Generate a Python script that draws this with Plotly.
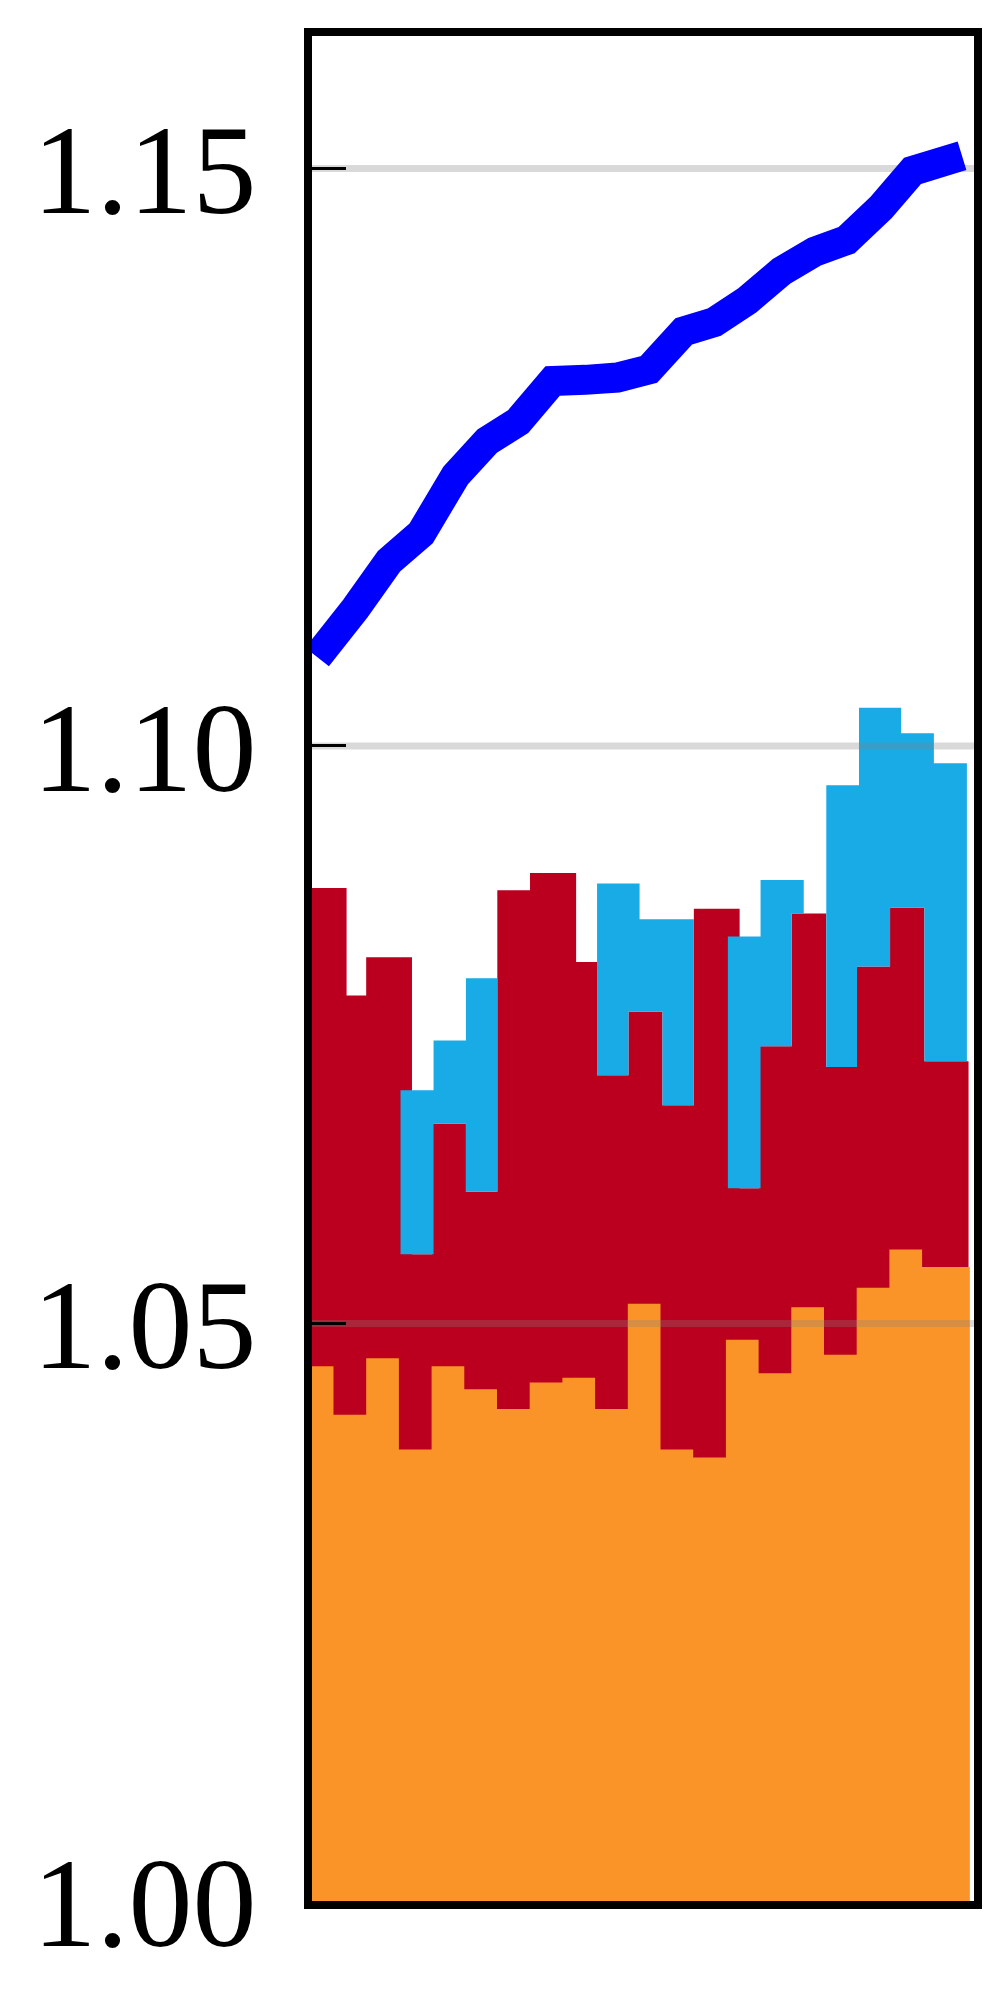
import plotly.graph_objects as go

# x is in "period" units; each list gives the step edges
orange_x = [-1, 0, 1, 2, 3, 4, 5, 6, 7, 8, 9, 10, 11, 12, 13, 14, 15, 16, 17, 18, 19.46]
orange_v = [1.0463, 1.0421, 1.0470, 1.0391, 1.0463, 1.0443, 1.0426, 1.0449, 1.0453, 1.0426,
            1.0517, 1.0391, 1.0384, 1.0486, 1.0457, 1.0514, 1.0473, 1.0531, 1.0564, 1.0549]

red_x = [-1, 0.40, 1.00, 2.40, 3.01, 4.05, 5.01, 6.01, 7.42, 8.06, 9.02,
         10.06, 11.02, 12.42, 13.01, 14.01, 15.07, 16.01, 17.02, 18.07, 19.42]
red_v = [1.0877, 1.0784, 1.0817, 1.0560, 1.0673, 1.0614, 1.0875, 1.0890, 1.0813, 1.0715,
         1.0770, 1.0689, 1.0859, 1.0617, 1.0740, 1.0855, 1.0722, 1.0809, 1.0860, 1.0727]

# blue band: lower / upper edge per step, None = no band
blue_x = [2.05, 3.06, 4.05, 5.01, 8.06, 9.02, 9.36, 10.06, 11.02, 12.06, 13.06,
          14.01, 14.38, 15.07, 16.01, 16.07, 17.02, 17.36, 18.07, 18.36, 19.37]
blue_lo = [1.0560, 1.0673, 1.0614, None, 1.0715, 1.0770, 1.0770, 1.0689, None, 1.0617,
           1.0740, 1.0855, None, 1.0722, 1.0809, 1.0809, 1.0860, 1.0860, 1.0727, 1.0727]
blue_hi = [1.0702, 1.0745, 1.0799, None, 1.0881, 1.0881, 1.0850, 1.0850, None, 1.0835,
           1.0884, 1.0884, None, 1.0966, 1.0966, 1.1033, 1.1033, 1.1011, 1.1011, 1.0985]

line_x = [-0.5, 0.67, 1.70, 2.68, 3.73, 4.70, 5.65, 6.70, 7.70, 8.68,
          9.65, 10.71, 11.65, 12.66, 13.70, 14.72, 15.69, 16.74, 17.71, 19.22]
line_v = [1.1077, 1.1119, 1.1160, 1.1184, 1.1234, 1.1264, 1.1281, 1.1316, 1.1317, 1.1319,
          1.1326, 1.1359, 1.1367, 1.1386, 1.1411, 1.1428, 1.1438, 1.1466, 1.1498, 1.1511]

y_ticks = [1.00, 1.05, 1.10, 1.15]
x_range = [-0.657, 19.587]
y_range = [1.0, 1.16147]

RED = "#BA001E"
BLUE_AREA = "#19ABE6"
ORANGE = "#FA9428"


def steps(vals):
    # hv step needs one more y than segments
    return list(vals) + [vals[-1]]


fig = go.Figure()

fig.add_trace(go.Scatter(
    x=red_x, y=steps(red_v), mode="lines", line=dict(width=0, shape="hv"),
    fill="tozeroy", fillcolor=RED, hoverinfo="skip"
))

lo = [v if v is not None else 1.0 for v in blue_lo]
hi = [v if v is not None else 1.0 for v in blue_hi]
fig.add_trace(go.Scatter(
    x=blue_x, y=steps(lo), mode="lines", line=dict(width=0, shape="hv"),
    hoverinfo="skip"
))
fig.add_trace(go.Scatter(
    x=blue_x, y=steps(hi), mode="lines", line=dict(width=0, shape="hv"),
    fill="tonexty", fillcolor=BLUE_AREA, hoverinfo="skip"
))

fig.add_trace(go.Scatter(
    x=orange_x, y=steps(orange_v), mode="lines", line=dict(width=0, shape="hv"),
    fill="tozeroy", fillcolor=ORANGE, hoverinfo="skip"
))

# grid drawn over the areas (semi-transparent grey)
for t in y_ticks[1:]:
    fig.add_trace(go.Scatter(
        x=x_range, y=[t, t], mode="lines",
        line=dict(color="rgba(128,128,128,0.3)", width=7), hoverinfo="skip"
    ))

fig.add_trace(go.Scatter(
    x=line_x, y=line_v, mode="lines",
    line=dict(color="#0000FF", width=30, simplify=False)
))

fig.update_layout(
    width=995,
    height=1994,
    autosize=False,
    showlegend=False,
    plot_bgcolor="white",
    paper_bgcolor="white",
    margin=dict(l=304, r=29, t=28, b=101),
    font=dict(family="Liberation Serif, Times New Roman, serif", size=128, color="black"),
)
fig.update_xaxes(
    range=x_range, showgrid=False, zeroline=False, showticklabels=False,
    ticks="", showline=True, linecolor="black", linewidth=8, mirror=True
)
fig.update_yaxes(
    range=y_range, tickvals=y_ticks, tickformat=".2f",
    showgrid=False, zeroline=False,
    ticks="inside", ticklen=34, tickwidth=3, tickcolor="black",
    ticklabelstandoff=22,
    showline=True, linecolor="black", linewidth=8, mirror=True
)

fig.write_html("out.html")
